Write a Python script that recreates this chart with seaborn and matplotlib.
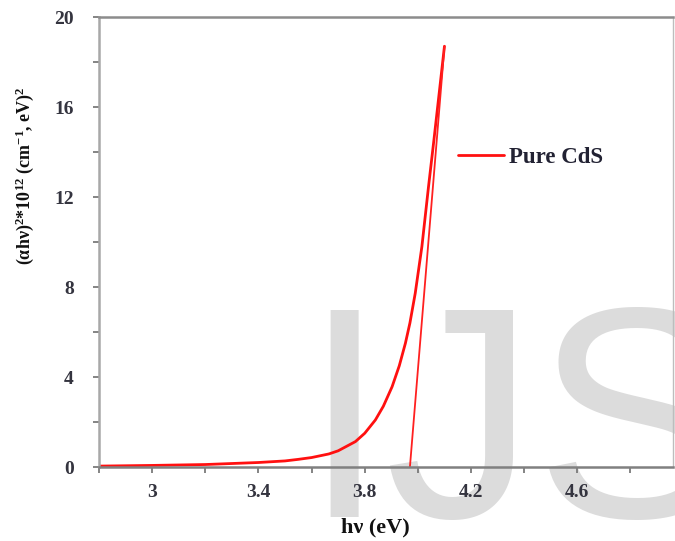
import matplotlib
matplotlib.use("Agg")
import matplotlib.pyplot as plt
from matplotlib.ticker import MultipleLocator, FixedLocator
import seaborn as sns
import pandas as pd

# ---- data ----
hv = [2.8, 3.0, 3.2, 3.4, 3.5, 3.55, 3.6, 3.665, 3.7, 3.765, 3.8, 3.84, 3.87,
      3.903, 3.93, 3.953, 3.97, 3.99, 4.015, 4.04, 4.06, 4.08, 4.1]
ahv2 = [0.04, 0.07, 0.11, 0.2, 0.27, 0.34, 0.42, 0.58, 0.72, 1.13, 1.5, 2.09, 2.7,
        3.57, 4.5, 5.5, 6.4, 7.72, 9.79, 12.46, 14.5, 16.6, 18.7]
fit_hv = [3.97, 4.1]
fit_y = [0.0, 18.7]
series_label = "Pure CdS"
x_ticks = [3.0, 3.4, 3.8, 4.2, 4.6]
x_tick_labels = ["3", "3.4", "3.8", "4.2", "4.6"]
y_ticks = [0, 4, 8, 12, 16, 20]

sns.set_style("ticks")
plt.rcParams["font.family"] = ["Liberation Serif", "DejaVu Serif"]
plt.rcParams["font.weight"] = "bold"
plt.rcParams["mathtext.fontset"] = "custom"
plt.rcParams["mathtext.rm"] = "Liberation Serif:bold"
plt.rcParams["mathtext.bf"] = "Liberation Serif:bold"
plt.rcParams["mathtext.it"] = "Liberation Serif:bold:italic"

fig = plt.figure(figsize=(6.75, 5.41), dpi=100)

# watermark behind the plot
fig.text(302 / 675, 24 / 541, "IJS", family="Liberation Sans", fontsize=216,
         color="#dcdcdc", ha="left", va="baseline", zorder=-5, fontweight="normal")

ax = fig.add_axes([99 / 675, 1 - 467 / 541, (673 - 99) / 675, (467 - 17) / 541])
ax.set_zorder(2)
ax.set_facecolor("none")

df = pd.DataFrame({"hv": hv, "y": ahv2})
dfit = pd.DataFrame({"hv": fit_hv, "y": fit_y})
sns.lineplot(data=df, x="hv", y="y", ax=ax, color="#ff1010", linewidth=2.0,
             label=series_label, sort=False)
sns.lineplot(data=dfit, x="hv", y="y", ax=ax, color="#ff2020", linewidth=1.3,
             sort=False, legend=False)

ax.set_xlim(2.8, 4.96)
ax.set_ylim(0, 20)
ax.xaxis.set_major_locator(FixedLocator(x_ticks))
ax.set_xticklabels(x_tick_labels)
ax.xaxis.set_minor_locator(FixedLocator([2.8, 3.2, 3.6, 4.0, 4.4, 4.8]))
ax.yaxis.set_major_locator(FixedLocator(y_ticks))
ax.yaxis.set_minor_locator(MultipleLocator(2))

tick_color = "#34343f"
ax.tick_params(axis="both", which="both", direction="out", length=4, width=1.2,
               color="#707070")
ax.tick_params(axis="x", which="major", labelsize=14, labelcolor=tick_color, pad=8)
ax.tick_params(axis="y", which="major", labelsize=14, labelcolor=tick_color, pad=14)
for lab in ax.get_xticklabels() + ax.get_yticklabels():
    lab.set_fontweight("bold")

for side, col, lw in [("left", "#a8a8a8", 1.8), ("bottom", "#808080", 1.8),
                      ("top", "#8c8c8c", 1.8), ("right", "#bdbdbd", 1.0)]:
    ax.spines[side].set_visible(True)
    ax.spines[side].set_color(col)
    ax.spines[side].set_linewidth(lw)

ax.set_xlabel("h\u03bd (eV)", fontsize=16, fontweight="bold", color="#111111")
ax.xaxis.set_label_coords(0.481, -0.113)
ax.set_ylabel("(\u03b1h\u03bd)$^{2}$*10$^{12}$ (cm$^{-1}$, eV)$^{2}$",
              fontsize=13, fontweight="bold", color="#111111")
ax.yaxis.set_label_coords(-0.11, 0.647)

leg = ax.legend(loc="center left", bbox_to_anchor=(0.625, 0.687), frameon=False,
                borderpad=0, borderaxespad=0, handlelength=2.0, handletextpad=0.25,
                prop={"family": "Liberation Serif", "weight": "bold", "size": 16.5})
for t in leg.get_texts():
    t.set_color("#222233")

fig.savefig("out.png", dpi=100)
